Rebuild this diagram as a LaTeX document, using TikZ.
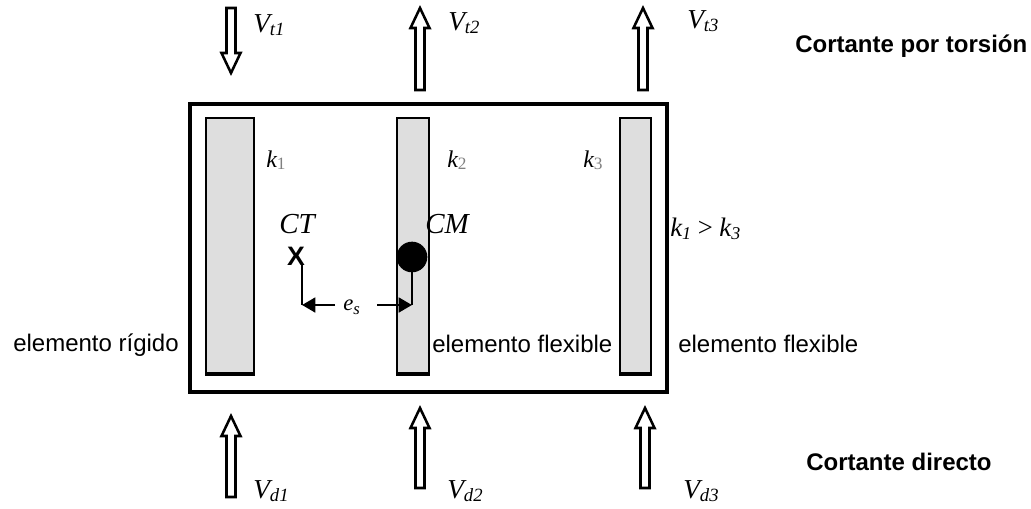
\documentclass[tikz,border=0pt]{standalone}
\usepackage{fontspec}
\setmainfont{Liberation Sans}
\newfontfamily\timesf{Liberation Serif}
\usetikzlibrary{arrows.meta}

% hollow force arrow: x, tail y, tip y
\newcommand\forcearrow[3]{%
  \pgfmathsetmacro\fahead{#3+20*sign(#2-#3)}%
  \draw[force] (#1-4.5,#2) -- (#1-4.5,\fahead) -- (#1-9.5,\fahead) -- (#1,#3)
    -- (#1+9.5,\fahead) -- (#1+4.5,\fahead) -- (#1+4.5,#2) -- cycle;}
\newcommand\vlab[1]{{\timesf\itshape\fontsize{20.5}{20.5}\selectfont V\raisebox{-2.5pt}{\fontsize{14}{14}\selectfont #1}}}
\newcommand\klab[1]{{\timesf\itshape\fontsize{18}{18}\selectfont k\raisebox{-2pt}{\fontsize{13}{13}\selectfont\upshape\color{gray}#1}}}

\begin{document}
\begin{tikzpicture}[x=0.75pt,y=-0.75pt,
    force/.style={draw=black,fill=white,line width=1.9pt,line join=miter},
    wall/.style={draw=black,fill=black!13,line width=2pt},
    lab/.style={anchor=base west,inner sep=0pt},
    txt/.style={lab,font=\fontsize{18}{18}\selectfont},
    dim/.style={line width=2.1pt}]
    \useasboundingbox (0,0) rectangle (1031,508);
    % planta y muros
    \draw[line width=2.3pt] (190,104) rectangle (667,392);
    \foreach \xa/\xb in {206/254,397/429,620/651}{
        \draw[wall] (\xa,118) rectangle (\xb,375);
        \draw[line width=3.5pt] (\xa-1,374) -- (\xb+1,374);}
    % cortantes
    \forcearrow{231}{8}{73}
    \forcearrow{420}{90}{8}
    \forcearrow{643}{90}{8}
    \foreach \x/\ya/\yb in {231/497/416,420/488/408,645/488/408}
        \forcearrow{\x}{\ya}{\yb};
    \node[lab] (vt1) at (253,32) {\vlab{t1}};
    \node[lab] (vt2) at (448,30) {\vlab{t2}};
    \node[lab] (vt3) at (687,28) {\vlab{t3}};
    \node[lab] (vd1) at (253,498) {\vlab{d1}};
    \node[lab] (vd2) at (447,498) {\vlab{d2}};
    \node[lab] (vd3) at (683,498) {\vlab{d3}};
    % rigideces
    \node[lab] (k1) at (266,167) {\klab{1}};
    \node[lab] (k2) at (447,167) {\klab{2}};
    \node[lab] (k3) at (583,167) {\klab{3}};
    \node[lab] (kcmp) at (670,236) {\timesf\itshape\fontsize{20}{20}\selectfont
        k\raisebox{-2.5pt}{\fontsize{13.5}{13.5}\selectfont 1}\ \upshape>\ \itshape k\raisebox{-2.5pt}{\fontsize{13.5}{13.5}\selectfont 3}};
    % centros y excentricidad
    \node[lab] (ctl) at (279,233) {\timesf\itshape\fontsize{21.75}{21.75}\selectfont CT};
    \node[lab] (cml) at (425,233) {\timesf\itshape\fontsize{21.75}{21.75}\selectfont CM};
    \node[font=\bfseries\fontsize{20}{20}\selectfont,inner sep=0pt] (ctx) at (296,256) {X};
    \node[circle,fill=black,minimum size=23pt,inner sep=0pt] (cm) at (412,257) {};
    \node[lab] (es) at (343,310) {\timesf\itshape\fontsize{17}{17}\selectfont e\raisebox{-3pt}{\fontsize{12.5}{12.5}\selectfont s}};
    \coordinate (ctfoot) at (302,305);
    \coordinate (cmfoot) at (412,305);
    \draw[dim] (ctx.south east -| ctfoot) -- (ctfoot);
    \draw[dim] (cm.center) -- (cmfoot);
    \draw[dim,-{Triangle[length=10pt,width=11pt]}] ([xshift=-6pt]es.west |- ctfoot) -- (ctfoot);
    \draw[dim,-{Triangle[length=10pt,width=11pt]}] ([xshift=13pt]es.east |- cmfoot) -- (cmfoot);
    % textos
    \node[txt] (rig) at (13,351) {elemento rígido};
    \node[txt] (flex2) at (432,352) {elemento flexible};
    \node[txt] (flex3) at (678,352) {elemento flexible};
    \node[txt,font=\bfseries\fontsize{18}{18}\selectfont] (tors) at (795,52) {Cortante por torsión};
    \node[txt,font=\bfseries\fontsize{18}{18}\selectfont] (dir) at (806,470) {Cortante directo};
\end{tikzpicture}
\end{document}
